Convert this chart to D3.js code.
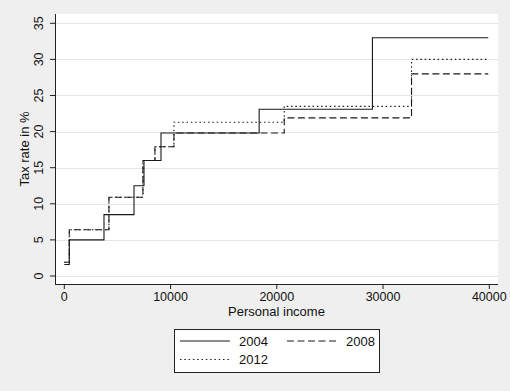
<!DOCTYPE html>
<html><head><meta charset="utf-8">
<script src="https://cdn.jsdelivr.net/npm/d3@7"></script>
<style>body{margin:0;background:#efefef;} svg{display:block;font-family:"Liberation Sans",Arial,sans-serif;}</style>
</head><body>
<script>
const xTicks = [0, 10000, 20000, 30000, 40000];
const yTicks = [0, 5, 10, 15, 20, 25, 30, 35];
const seriesNames = ["2004", "2008", "2012"];
const income2004 = [0, 470, 3735, 6560, 7500, 9100, 18340, 29000, 39900];
const rate2004   = [1.6, 5.0, 8.5, 12.5, 16.0, 19.8, 23.1, 33.0, 33.0];
const income2008 = [0, 470, 4200, 7400, 8530, 10320, 20700, 32680, 39900];
const rate2008   = [1.9, 6.4, 10.9, 16.0, 17.9, 19.8, 21.9, 28.0, 28.0];
const income2012 = [0, 470, 4200, 7400, 8530, 10320, 20700, 32680, 39900];
const rate2012   = [1.9, 6.4, 10.9, 16.0, 17.9, 21.3, 23.5, 30.0, 30.0];

const W = 510, H = 391;
const svg = d3.select("body").append("svg").attr("width", W).attr("height", H);
svg.append("rect").attr("width", W).attr("height", H).attr("fill", "#efefef");

const x = d3.scaleLinear().domain([0, 40000]).range([64.3, 489.3]);
const y = d3.scaleLinear().domain([0, 35]).range([276, 23.3]);
const plot = {l: 55, r: 498, t: 14, b: 284};

svg.append("rect").attr("x", plot.l).attr("y", plot.t).attr("width", plot.r - plot.l).attr("height", plot.b - plot.t).attr("fill", "#fff");

// grid
svg.append("g").selectAll("line").data(yTicks).join("line")
  .attr("x1", plot.l).attr("x2", plot.r)
  .attr("y1", d => Math.round(y(d)) + 0.5).attr("y2", d => Math.round(y(d)) + 0.5)
  .attr("stroke", "#e6e6e6").attr("stroke-width", 1);

// lines
const data = [
  {name: seriesNames[0], inc: income2004, rate: rate2004, dash: null},
  {name: seriesNames[1], inc: income2008, rate: rate2008, dash: "7,3.5"},
  {name: seriesNames[2], inc: income2012, rate: rate2012, dash: "1.5,2.8"}
];
const line = d3.line().x(d => x(d[0])).y(d => y(d[1])).curve(d3.curveStepAfter);
data.slice().reverse().forEach(s => {
  const pts = s.inc.map((v, i) => [v, s.rate[i]]);
  svg.append("path").attr("d", line(pts)).attr("fill", "none")
    .attr("stroke", "#1a1a1a").attr("stroke-width", 1.1)
    .attr("stroke-dasharray", s.dash);
});

// axes
const yAxis = svg.append("g").attr("transform", `translate(${plot.l},0)`);
yAxis.append("line").attr("x1", 0.5).attr("x2", 0.5).attr("y1", plot.t).attr("y2", plot.b).attr("stroke", "#222");
yAxis.selectAll(".t").data(yTicks).join("line")
  .attr("x1", -5).attr("x2", 0).attr("y1", d => y(d)).attr("y2", d => y(d)).attr("stroke", "#222");
yAxis.selectAll("text").data(yTicks).join("text")
  .attr("transform", d => `translate(-12,${y(d)}) rotate(-90)`)
  .attr("text-anchor", "middle").attr("font-size", 12.5).attr("fill", "#111")
  .text(d => d);

const xAxis = svg.append("g").attr("transform", `translate(0,${plot.b})`);
xAxis.append("line").attr("x1", plot.l).attr("x2", plot.r).attr("y1", 0.5).attr("y2", 0.5).attr("stroke", "#222");
xAxis.selectAll(".t").data(xTicks).join("line")
  .attr("x1", d => x(d)).attr("x2", d => x(d)).attr("y1", 0).attr("y2", 5).attr("stroke", "#222");
xAxis.selectAll("text").data(xTicks).join("text")
  .attr("x", d => x(d)).attr("y", 17).attr("text-anchor", "middle")
  .attr("font-size", 12.5).attr("fill", "#111").text(d => d);

svg.append("text").attr("x", (plot.l + plot.r) / 2).attr("y", 316).attr("text-anchor", "middle")
  .attr("font-size", 13).attr("fill", "#111").text("Personal income");
svg.append("text").attr("transform", `translate(29,${(plot.t + plot.b) / 2}) rotate(-90)`)
  .attr("text-anchor", "middle").attr("font-size", 13).attr("fill", "#111").text("Tax rate in %");

// legend
const lg = svg.append("g");
lg.append("rect").attr("x", 174.5).attr("y", 329.5).attr("width", 205).attr("height", 43)
  .attr("fill", "#fff").attr("stroke", "#222");
const pos = [[180, 341], [287, 341], [180, 359.5]];
data.forEach((s, i) => {
  const [lx, ly] = pos[i];
  lg.append("line").attr("x1", lx).attr("x2", lx + 50).attr("y1", ly).attr("y2", ly)
    .attr("stroke", "#1a1a1a").attr("stroke-width", 1.1).attr("stroke-dasharray", s.dash);
  lg.append("text").attr("x", lx + 59).attr("y", ly + 4.5).attr("font-size", 13).attr("fill", "#111").text(s.name);
});
</script>
</body></html>
